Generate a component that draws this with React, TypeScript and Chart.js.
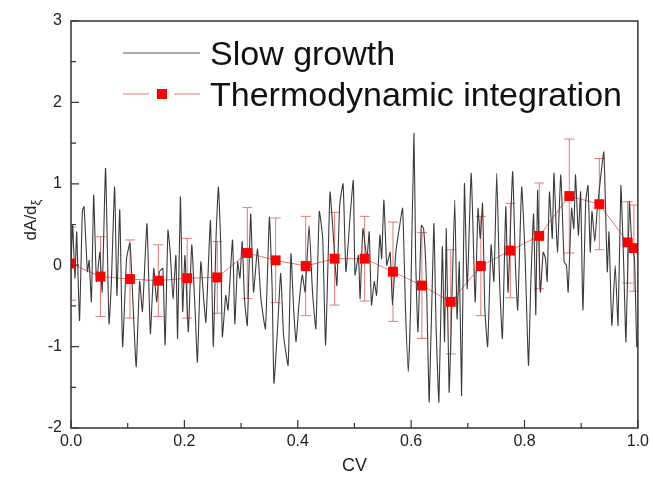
import { useEffect, useRef } from "react";
import { Chart, registerables } from "chart.js";

Chart.register(...registerables);

const xTicks = [0, 0.2, 0.4, 0.6, 0.8, 1.0];
const yTicks = [-2, -1, 0, 1, 2, 3];
const xMinorTicks = [0.1, 0.3, 0.5, 0.7, 0.9];
const yMinorTicks = [-1.5, -0.5, 0.5, 1.5, 2.5];

const legendLabels = ["Slow growth", "Thermodynamic integration"];
const xTitle = "CV";
const yTitleMain = "dA/d";
const yTitleSub = "ξ";

// Thermodynamic integration points
const tiX = [0, 0.052, 0.104, 0.154, 0.205, 0.258, 0.311, 0.361, 0.414, 0.465, 0.518, 0.568, 0.619, 0.67, 0.723, 0.775, 0.826, 0.879, 0.932, 0.982, 0.993];
const tiY = [0.02, -0.14, -0.17, -0.19, -0.16, -0.15, 0.15, 0.06, -0.01, 0.08, 0.08, -0.08, -0.25, -0.45, -0.01, 0.18, 0.36, 0.85, 0.75, 0.28, 0.21];
const tiErr = [0.45, 0.49, 0.48, 0.44, 0.49, 0.44, 0.56, 0.52, 0.61, 0.57, 0.52, 0.61, 0.65, 0.64, 0.61, 0.58, 0.65, 0.7, 0.56, 0.5, 0.53];

// Slow growth trace [CV, dA/dxi]
const slowGrowth: [number, number][] = [
  [0, 0], [0.003, 0.49], [0.007, -0.16], [0.01, 0.41], [0.015, -0.68], [0.02, 0.66], [0.023, 0.72], [0.029, -0.08], [0.032, 0.06], [0.036, -0.45],
  [0.04, 0.86], [0.045, -0.2], [0.051, 0.16], [0.055, -0.33], [0.061, 1.19], [0.067, -0.72], [0.071, -0.25], [0.077, 0.96], [0.081, -0.37], [0.086, 0.68],
  [0.091, -1.0], [0.098, 0.08], [0.104, 0.27], [0.109, -0.41], [0.115, -1.25], [0.121, -0.2], [0.126, -0.57], [0.134, 0.51], [0.14, -0.84], [0.146, -0.04],
  [0.151, -0.45], [0.156, -0.08], [0.162, -0.04], [0.166, -0.98],
  [0.171, 0.43], [0.175, 0.16], [0.18, -0.41], [0.185, 0.12], [0.188, -0.9], [0.193, 0.84], [0.197, -0.57], [0.201, 0.12], [0.207, -0.82], [0.213, 0.25],
  [0.219, -0.57], [0.223, -1.19], [0.229, 0.04], [0.234, -0.41], [0.238, -0.7], [0.246, 0.55], [0.251, -1.0], [0.256, 0.37], [0.26, 0.96], [0.264, 0.29],
  [0.267, -0.88], [0.273, -0.37], [0.277, -0.55], [0.285, 0.31], [0.289, -0.72], [0.294, 0.04], [0.298, -0.16], [0.302, 0.29], [0.306, -0.41], [0.311, -0.74],
  [0.317, 0.63], [0.322, -0.33], [0.329, 0.2], [0.335, -0.41],
  [0.343, -0.78], [0.35, 0.59], [0.355, -0.33], [0.358, -1.45], [0.364, -0.82], [0.37, -0.1], [0.375, -0.86], [0.383, -1.23], [0.388, 0.14], [0.393, -0.57],
  [0.397, -0.94], [0.402, -0.49], [0.408, -0.12], [0.413, -0.33], [0.42, 0.49], [0.426, -0.33], [0.432, -0.78], [0.438, 0.66], [0.444, 0.33], [0.449, -0.98],
  [0.454, 0.2], [0.457, 0.9], [0.463, 0.33], [0.469, -0.25], [0.474, 0.74], [0.48, 1.0], [0.485, -0.08], [0.492, 0.57], [0.498, 1.04],
  [0.501, -0.12], [0.507, 0.12], [0.51, -0.41], [0.515, 0.45], [0.522, 0.08], [0.526, 0.41], [0.53, -0.49], [0.535, -0.2], [0.539, -0.37], [0.545, 0.37],
  [0.548, 0.08], [0.552, 0.8], [0.557, 0.0], [0.563, 0.16], [0.567, -0.49], [0.573, 0.16], [0.579, 0.45], [0.585, 0.7], [0.59, -0.53], [0.595, -1.31],
  [0.599, -0.53], [0.605, 1.62], [0.608, 0.08], [0.612, -0.82], [0.618, 0.49], [0.622, 0.45], [0.627, -0.2], [0.632, -1.68], [0.64, 0.51], [0.644, -0.74],
  [0.649, -1.68], [0.655, 0.23], [0.659, -0.94], [0.662, 0.45], [0.667, -1.56],
  [0.671, -0.66], [0.677, 0.8], [0.681, -0.66], [0.685, 0.04], [0.689, -1.6], [0.694, 1.0], [0.699, -0.29], [0.706, 1.13], [0.713, -0.45], [0.718, 0.7],
  [0.722, 0.33], [0.726, 0.76], [0.73, -0.53], [0.735, -1.0], [0.741, 0.25], [0.746, -0.2], [0.751, 1.13], [0.756, -0.2], [0.761, -0.9], [0.767, 0.72],
  [0.771, -0.33], [0.779, 1.15], [0.784, 0.0], [0.788, -0.55], [0.795, 0.96], [0.801, 0.12], [0.807, -1.23], [0.811, -0.25], [0.816, 0.63], [0.82, -0.61],
  [0.823, 0.92], [0.828, -0.33], [0.833, 0.16],
  [0.837, 0.08], [0.84, -0.2], [0.844, 0.9], [0.849, 0.33], [0.852, 1.13], [0.858, 0.16], [0.864, 1.11], [0.87, 0.04], [0.874, 0.0], [0.877, -0.33],
  [0.883, 0.7], [0.887, 0.45], [0.89, 1.11], [0.895, 0.37], [0.899, 0.9], [0.903, -0.55], [0.908, 0.78], [0.912, 0.98], [0.916, 0.16], [0.919, 0.66],
  [0.924, 0.29], [0.928, 0.66], [0.934, 1.06], [0.94, 1.39], [0.946, -0.08], [0.949, 0.41], [0.954, -0.74], [0.96, 0.0], [0.965, -0.74], [0.97, 0.98],
  [0.975, 0.0], [0.979, -0.94], [0.985, 0.78], [0.989, 0.29], [0.994, 0.08], [0.998, -1.0], [1.0, -0.95],
];

const FONT = "'Liberation Sans', Arial, sans-serif";
const RED = "#ff0000";
const PINK = "#e87878";

export default function App() {
  const ref = useRef<HTMLCanvasElement>(null);

  useEffect(() => {
    document.body.style.margin = "0";
    const canvas = ref.current;
    if (!canvas) return;

    const deco = {
      id: "deco",
      beforeDatasetsDraw(chart: any) {
        const { ctx, chartArea } = chart;
        const xs = chart.scales.x;
        const ys = chart.scales.y;
        ctx.save();
        ctx.beginPath();
        ctx.rect(chartArea.left, chartArea.top, chartArea.right - chartArea.left, chartArea.bottom - chartArea.top);
        ctx.clip();
        ctx.strokeStyle = PINK;
        ctx.lineWidth = 1;
        for (let i = 0; i < tiX.length; i++) {
          const px = xs.getPixelForValue(tiX[i]);
          const pt = ys.getPixelForValue(tiY[i] + tiErr[i]);
          const pb = ys.getPixelForValue(tiY[i] - tiErr[i]);
          ctx.beginPath();
          ctx.moveTo(px, pt);
          ctx.lineTo(px, pb);
          ctx.moveTo(px - 5, pt);
          ctx.lineTo(px + 5, pt);
          ctx.moveTo(px - 5, pb);
          ctx.lineTo(px + 5, pb);
          ctx.stroke();
        }
        ctx.restore();
      },
      afterDraw(chart: any) {
        const { ctx, chartArea } = chart;
        const xs = chart.scales.x;
        const ys = chart.scales.y;
        const { left, right, top, bottom } = chartArea;
        ctx.save();
        // frame
        ctx.strokeStyle = "#333";
        ctx.lineWidth = 1.5;
        ctx.strokeRect(left, top, right - left, bottom - top);
        // inward ticks
        ctx.lineWidth = 1.2;
        ctx.beginPath();
        xTicks.forEach((v) => {
          const p = xs.getPixelForValue(v);
          ctx.moveTo(p, bottom);
          ctx.lineTo(p, bottom - 8);
        });
        xMinorTicks.forEach((v) => {
          const p = xs.getPixelForValue(v);
          ctx.moveTo(p, bottom);
          ctx.lineTo(p, bottom - 5);
        });
        yTicks.forEach((v) => {
          const p = ys.getPixelForValue(v);
          ctx.moveTo(left, p);
          ctx.lineTo(left + 8, p);
        });
        yMinorTicks.forEach((v) => {
          const p = ys.getPixelForValue(v);
          ctx.moveTo(left, p);
          ctx.lineTo(left + 5, p);
        });
        ctx.stroke();

        // legend
        ctx.fillStyle = "#111";
        ctx.font = `34px ${FONT}`;
        ctx.textBaseline = "alphabetic";
        ctx.textAlign = "left";
        ctx.fillText(legendLabels[0], 210, 65);
        ctx.fillText(legendLabels[1], 210, 106);
        ctx.strokeStyle = "#555";
        ctx.lineWidth = 1;
        ctx.beginPath();
        ctx.moveTo(123, 53);
        ctx.lineTo(200, 53);
        ctx.stroke();
        ctx.strokeStyle = PINK;
        ctx.beginPath();
        ctx.moveTo(123, 94);
        ctx.lineTo(149, 94);
        ctx.moveTo(174, 94);
        ctx.lineTo(200, 94);
        ctx.stroke();
        ctx.fillStyle = RED;
        ctx.fillRect(157, 89, 10, 10);

        // axis titles
        ctx.fillStyle = "#222";
        ctx.font = `18px ${FONT}`;
        ctx.textAlign = "center";
        ctx.textBaseline = "middle";
        ctx.fillText(xTitle, (left + right) / 2, 466);

        ctx.save();
        ctx.translate(31, 220);
        ctx.rotate(-Math.PI / 2);
        ctx.font = `17px ${FONT}`;
        const wMain = ctx.measureText(yTitleMain).width;
        ctx.font = `13px ${FONT}`;
        const wSub = ctx.measureText(yTitleSub).width;
        const start = -(wMain + wSub) / 2;
        ctx.textAlign = "left";
        ctx.textBaseline = "middle";
        ctx.font = `17px ${FONT}`;
        ctx.fillText(yTitleMain, start, 0);
        ctx.font = `13px ${FONT}`;
        ctx.fillText(yTitleSub, start + wMain, 5);
        ctx.restore();

        ctx.restore();
      },
    };

    const chart = new Chart(canvas, {
      type: "line",
      data: {
        datasets: [
          {
            label: legendLabels[1],
            data: tiX.map((x, i) => ({ x, y: tiY[i] })),
            showLine: false,
            pointStyle: "rect",
            pointRadius: 7,
            pointBackgroundColor: RED,
            pointBorderWidth: 0,
            borderWidth: 0,
            order: 0,
            clip: 0,
          },
          {
            label: legendLabels[0],
            data: slowGrowth.map(([x, y]) => ({ x, y })),
            borderColor: "#3a3a3a",
            borderWidth: 1.1,
            pointRadius: 0,
            tension: 0.15,
            order: 1,
          },
          {
            label: legendLabels[1] + " line",
            data: tiX.map((x, i) => ({ x, y: tiY[i] })),
            borderColor: PINK,
            borderWidth: 1,
            pointRadius: 0,
            order: 2,
          },
        ],
      },
      options: {
        animation: false,
        responsive: false,
        events: [],
        layout: { padding: { top: 21, right: 12, left: 0, bottom: 0 } },
        plugins: { legend: { display: false }, tooltip: { enabled: false } },
        scales: {
          x: {
            type: "linear",
            min: 0,
            max: 1,
            grid: { display: false, drawTicks: false },
            border: { display: false },
            ticks: {
              stepSize: 0.2,
              padding: 4,
              color: "#222",
              font: { family: FONT, size: 16 },
              callback: (v: any) => Number(v).toFixed(1),
            },
            afterFit: (s: any) => {
              s.height = 57;
            },
          },
          y: {
            type: "linear",
            min: -2,
            max: 3,
            grid: { display: false, drawTicks: false },
            border: { display: false },
            ticks: {
              stepSize: 1,
              padding: 9,
              color: "#222",
              font: { family: FONT, size: 16 },
              callback: (v: any) => String(v),
            },
            afterFit: (s: any) => {
              s.width = 71;
            },
          },
        },
      },
      plugins: [deco],
    });

    return () => chart.destroy();
  }, []);

  return <canvas ref={ref} width={653} height={485} style={{ display: "block" }} />;
}
